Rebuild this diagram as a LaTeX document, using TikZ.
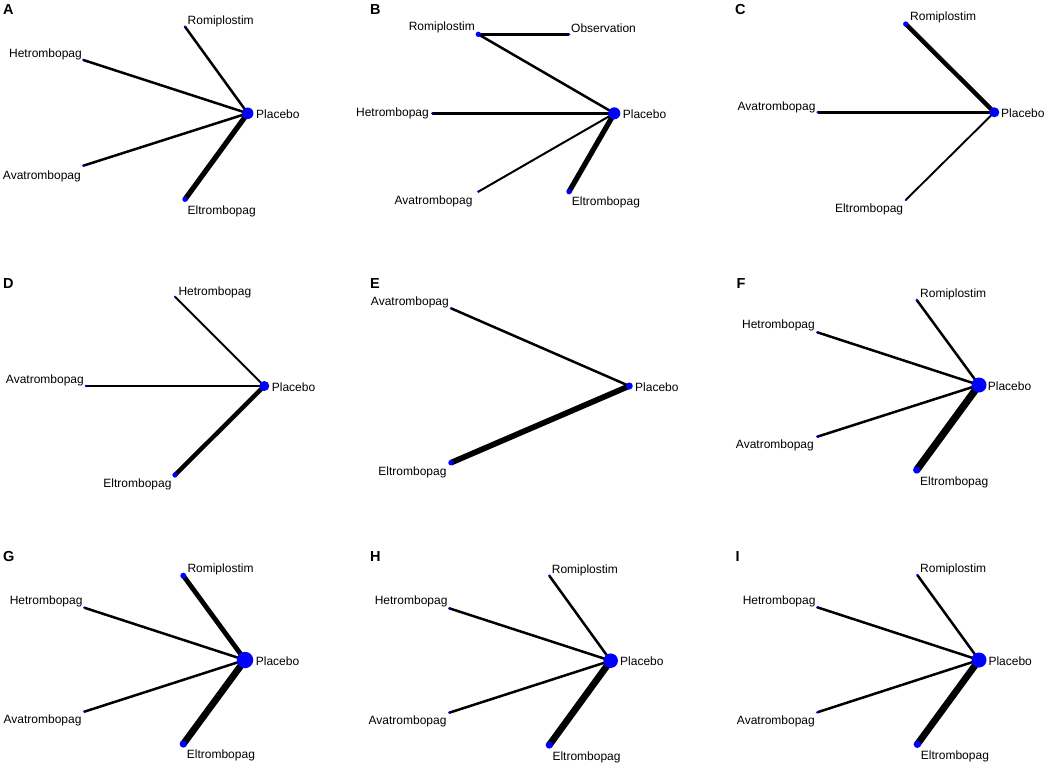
\documentclass[tikz,border=0pt]{standalone}
\usepackage{fontspec}
\setmainfont{Liberation Sans}
\usetikzlibrary{backgrounds}
\begin{document}
\begin{tikzpicture}[x=1pt,y=-1pt,
  nd/.style={circle,fill=blue,draw=none,inner sep=0pt,minimum size=#1},
  lab/.style={inner sep=0pt,font=\fontsize{12}{14}\selectfont},
  ttl/.style={inner sep=0pt,anchor=base west,font=\fontsize{14.5}{16}\selectfont\bfseries},
  ed/.style={draw=black,line width=#1}]
\useasboundingbox (0,0) rectangle (1045,765);

% ---------------- A ----------------
\node[ttl] (tA) at (3,15) {A};
\node[nd=11.5pt] (aP) at (247.7,113.3) {};
\node[nd=2.6pt] (aR) at (185,26.7) {};
\node[nd=2.6pt] (aH) at (83.3,60) {};
\node[nd=2.6pt] (aA) at (83.3,165.7) {};
\node[nd=5.3pt] (aE) at (185,199.3) {};
\node[lab,anchor=west] (laR) at (187.5,21.5) {Romiplostim};
\node[lab,anchor=east] (laH) at (82,54) {Hetrombopag};
\node[lab,anchor=west] (laP) at (256,114) {Placebo};
\node[lab,anchor=east] (laA) at (81,176) {Avatrombopag};
\node[lab,anchor=west] (laE) at (187.5,211) {Eltrombopag};
\begin{scope}[on background layer]
\draw[ed=2.5pt] (aR.center) -- (aP.center);
\draw[ed=2.5pt] (aH.center) -- (aP.center);
\draw[ed=2.5pt] (aA.center) -- (aP.center);
\draw[ed=5.2pt] (aE.center) -- (aP.center);
\end{scope}

% ---------------- B ----------------
\node[ttl] (tB) at (370,15) {B};
\node[nd=12pt] (bP) at (614.3,113.3) {};
\node[nd=5.3pt] (bR) at (478.3,34.3) {};
\node[nd=2.6pt] (bO) at (569,34.3) {};
\node[nd=2.6pt] (bH) at (432.3,113.3) {};
\node[nd=2.6pt] (bA) at (478.3,191.7) {};
\node[nd=5.3pt] (bE) at (569,191.7) {};
\node[lab,anchor=east] (lbR) at (475,27) {Romiplostim};
\node[lab,anchor=west] (lbO) at (571,28) {Observation};
\node[lab,anchor=west] (lbP) at (622.7,114) {Placebo};
\node[lab,anchor=east] (lbH) at (429,113.7) {Hetrombopag};
\node[lab,anchor=east] (lbA) at (472.7,201.7) {Avatrombopag};
\node[lab,anchor=west] (lbE) at (571.7,202.5) {Eltrombopag};
\begin{scope}[on background layer]
\draw[ed=2.5pt] (bR.center) -- (bO.center);
\draw[ed=2.5pt] (bR.center) -- (bP.center);
\draw[ed=2.8pt] (bH.center) -- (bP.center);
\draw[ed=2pt] (bA.center) -- (bP.center);
\draw[ed=5.2pt] (bE.center) -- (bP.center);
\end{scope}

% ---------------- C ----------------
\node[ttl] (tC) at (735,15) {C};
\node[nd=10pt] (cP) at (994.3,112.3) {};
\node[nd=5.3pt] (cR) at (905.7,24) {};
\node[nd=2.6pt] (cA) at (817.7,112.3) {};
\node[nd=2.2pt] (cE) at (905.7,200) {};
\node[lab,anchor=west] (lcR) at (910,17.8) {Romiplostim};
\node[lab,anchor=west] (lcP) at (1001,112.8) {Placebo};
\node[lab,anchor=east] (lcA) at (815.7,107.5) {Avatrombopag};
\node[lab,anchor=east] (lcE) at (903.3,209.5) {Eltrombopag};
\begin{scope}[on background layer]
\draw[ed=4.4pt] (cR.center) -- (cP.center);
\draw[ed=2.5pt] (cA.center) -- (cP.center);
\draw[ed=1.9pt] (cE.center) -- (cP.center);
\end{scope}

% ---------------- D ----------------
\node[ttl] (tD) at (3,288.3) {D};
\node[nd=10pt] (dP) at (264.3,386) {};
\node[nd=2.2pt] (dH) at (175,296.7) {};
\node[nd=2.6pt] (dA) at (86,386) {};
\node[nd=5.3pt] (dE) at (175,475) {};
\node[lab,anchor=west] (ldH) at (178.3,292.8) {Hetrombopag};
\node[lab,anchor=west] (ldP) at (271.7,387.2) {Placebo};
\node[lab,anchor=east] (ldA) at (84,380.5) {Avatrombopag};
\node[lab,anchor=east] (ldE) at (171.7,484.5) {Eltrombopag};
\begin{scope}[on background layer]
\draw[ed=1.9pt] (dH.center) -- (dP.center);
\draw[ed=2.5pt] (dA.center) -- (dP.center);
\draw[ed=4.4pt] (dE.center) -- (dP.center);
\end{scope}

% ---------------- E ----------------
\node[ttl] (tE) at (370,288.3) {E};
\node[nd=7pt] (eP) at (629.3,386) {};
\node[nd=2.6pt] (eA) at (451,308.3) {};
\node[nd=5.5pt] (eE) at (451,462.7) {};
\node[lab,anchor=east] (leA) at (449,302.8) {Avatrombopag};
\node[lab,anchor=west] (leP) at (635,387) {Placebo};
\node[lab,anchor=east] (leE) at (446.7,472.8) {Eltrombopag};
\begin{scope}[on background layer]
\draw[ed=2.5pt] (eA.center) -- (eP.center);
\draw[ed=5.7pt] (eE.center) -- (eP.center);
\end{scope}

% ---------------- F ----------------
\node[ttl] (tF) at (736.5,288.3) {F};
\node[nd=15pt] (fP) at (979,385) {};
\node[nd=2.6pt] (fR) at (916.7,300) {};
\node[nd=2.6pt] (fH) at (817.3,332.3) {};
\node[nd=2.6pt] (fA) at (817.3,436.7) {};
\node[nd=7.3pt] (fE) at (916.7,470) {};
\node[lab,anchor=west] (lfR) at (920,294.5) {Romiplostim};
\node[lab,anchor=east] (lfH) at (815,325.8) {Hetrombopag};
\node[lab,anchor=west] (lfP) at (987.7,386.2) {Placebo};
\node[lab,anchor=east] (lfA) at (814,445.8) {Avatrombopag};
\node[lab,anchor=west] (lfE) at (920,482.5) {Eltrombopag};
\begin{scope}[on background layer]
\draw[ed=2.5pt] (fR.center) -- (fP.center);
\draw[ed=2.5pt] (fH.center) -- (fP.center);
\draw[ed=2.5pt] (fA.center) -- (fP.center);
\draw[ed=7.3pt] (fE.center) -- (fP.center);
\end{scope}

% ---------------- G ----------------
\node[ttl] (tG) at (3,561.7) {G};
\node[nd=16.5pt] (gP) at (245,660) {};
\node[nd=6pt] (gR) at (183.3,575.7) {};
\node[nd=2.6pt] (gH) at (84.3,607.7) {};
\node[nd=2.6pt] (gA) at (84.3,711.7) {};
\node[nd=7.3pt] (gE) at (183.3,744) {};
\node[lab,anchor=west] (lgR) at (187.3,569.7) {Romiplostim};
\node[lab,anchor=east] (lgH) at (82.7,601.7) {Hetrombopag};
\node[lab,anchor=west] (lgP) at (255.7,660.8) {Placebo};
\node[lab,anchor=east] (lgA) at (81.7,720.8) {Avatrombopag};
\node[lab,anchor=west] (lgE) at (186.7,755.8) {Eltrombopag};
\begin{scope}[on background layer]
\draw[ed=4.8pt] (gR.center) -- (gP.center);
\draw[ed=2.5pt] (gH.center) -- (gP.center);
\draw[ed=2.5pt] (gA.center) -- (gP.center);
\draw[ed=6.8pt] (gE.center) -- (gP.center);
\end{scope}

% ---------------- H ----------------
\node[ttl] (tH) at (370,561.7) {H};
\node[nd=14.5pt] (hP) at (610.7,660.7) {};
\node[nd=2.6pt] (hR) at (549.3,575.7) {};
\node[nd=2.6pt] (hH) at (449.3,608.3) {};
\node[nd=2.6pt] (hA) at (449.3,712.7) {};
\node[nd=7.3pt] (hE) at (549.3,745) {};
\node[lab,anchor=west] (lhR) at (551.7,570.5) {Romiplostim};
\node[lab,anchor=east] (lhH) at (447.7,601.7) {Hetrombopag};
\node[lab,anchor=west] (lhP) at (620,661.7) {Placebo};
\node[lab,anchor=east] (lhA) at (446.7,721.7) {Avatrombopag};
\node[lab,anchor=west] (lhE) at (552.3,757.2) {Eltrombopag};
\begin{scope}[on background layer]
\draw[ed=2.5pt] (hR.center) -- (hP.center);
\draw[ed=2.5pt] (hH.center) -- (hP.center);
\draw[ed=2.5pt] (hA.center) -- (hP.center);
\draw[ed=6.8pt] (hE.center) -- (hP.center);
\end{scope}

% ---------------- I ----------------
\node[ttl] (tI) at (735.5,561.7) {I};
\node[nd=15pt] (iP) at (979,660) {};
\node[nd=2.6pt] (iR) at (917.3,575) {};
\node[nd=2.6pt] (iH) at (817.3,607.3) {};
\node[nd=2.6pt] (iA) at (817.3,712.3) {};
\node[nd=7.3pt] (iE) at (917.3,744.3) {};
\node[lab,anchor=west] (liR) at (920,569.7) {Romiplostim};
\node[lab,anchor=east] (liH) at (815.7,601.7) {Hetrombopag};
\node[lab,anchor=west] (liP) at (988.3,660.8) {Placebo};
\node[lab,anchor=east] (liA) at (815,721.3) {Avatrombopag};
\node[lab,anchor=west] (liE) at (920.7,756.7) {Eltrombopag};
\begin{scope}[on background layer]
\draw[ed=2.5pt] (iR.center) -- (iP.center);
\draw[ed=2.5pt] (iH.center) -- (iP.center);
\draw[ed=2.5pt] (iA.center) -- (iP.center);
\draw[ed=6.8pt] (iE.center) -- (iP.center);
\end{scope}
\end{tikzpicture}
\end{document}
